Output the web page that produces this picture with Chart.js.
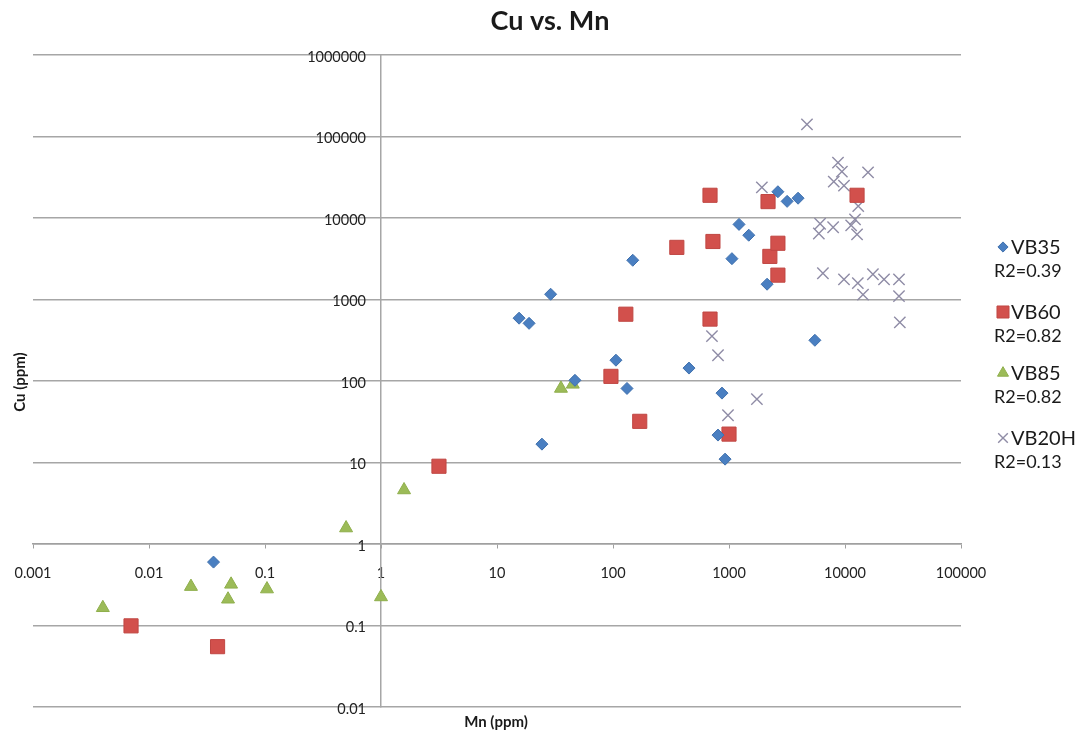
<!DOCTYPE html>
<html>
<head>
<meta charset="utf-8">
<script src="https://cdn.jsdelivr.net/npm/chart.js@4.4.1/dist/chart.umd.min.js"></script>
<style>
  html, body { margin: 0; padding: 0; background: #ffffff; }
  #wrap { width: 1090px; height: 736px; position: relative; }
</style>
</head>
<body>
<div id="wrap"><canvas id="chart" width="1090" height="736"></canvas></div>
<script>
// Mn (ppm) on x, Cu (ppm) on y, one pair of arrays per sample series
const vb35Mn = [0.036, 15.5, 18.9, 29, 24.4, 47, 148, 106, 132, 452, 870, 804, 925, 5500, 2130, 1220, 1480, 1060, 2640, 3170, 3940];
const vb35Cu = [0.6, 590, 510, 1160, 16.8, 102, 3030, 180, 81, 144, 71, 21.7, 11, 316, 1540, 8350, 6150, 3170, 21000, 16000, 17500];

const vb60Mn = [0.007, 0.039, 3.16, 96, 129, 170, 355, 686, 727, 686, 1000, 2170, 2250, 2640, 2640, 12700];
const vb60Cu = [0.099, 0.055, 9.0, 114, 660, 32, 4360, 19000, 5150, 575, 22.3, 15900, 3380, 4900, 1990, 19000];

const vb85Mn = [0.004, 0.023, 0.051, 0.048, 0.104, 1.0, 0.5, 1.58, 35.6, 45];
const vb85Cu = [0.165, 0.30, 0.32, 0.21, 0.28, 0.224, 1.57, 4.6, 81, 91];

const vb20hMn = [4700, 8700, 9400, 8000, 9800, 15800, 1920, 6100, 5950, 7900, 11300, 12200, 12700, 13000,
                 6450, 9800, 12900, 14300, 17400, 21700, 29200, 29200, 29700, 713, 804, 1740, 980];
const vb20hCu = [141000, 47900, 37000, 28000, 25000, 36300, 23700, 8500, 6450, 7700, 8100, 9600, 6300, 14000,
                 2100, 1770, 1590, 1150, 2040, 1770, 1770, 1100, 525, 355, 207, 60, 38];

const seriesNames = ['VB35', 'VB60', 'VB85', 'VB20H'];
const seriesR2 = ['R2=0.39', 'R2=0.82', 'R2=0.82', 'R2=0.13'];

const xTickValues = [0.001, 0.01, 0.1, 1, 10, 100, 1000, 10000, 100000];
const xTickLabels = ['0.001', '0.01', '0.1', '1', '10', '100', '1000', '10000', '100000'];
const yTickValues = [0.01, 0.1, 1, 10, 100, 1000, 10000, 100000, 1000000];
const yTickLabels = ['0.01', '0.1', '1', '10', '100', '1000', '10000', '100000', '1000000'];

const chartTitle = 'Cu vs. Mn';
const xTitle = 'Mn (ppm)';
const yTitle = 'Cu (ppm)';

function pairs(xs, ys) {
  return xs.map((x, i) => ({ x: x, y: ys[i] }));
}

const FONT = 'Lato, "Open Sans", "DejaVu Sans", sans-serif';
const TICK_FONT_SIZE = 14.5;

const datasets = [
  { label: seriesNames[0], data: pairs(vb35Mn, vb35Cu), pointStyle: 'rectRot', pointRadius: 6,
    backgroundColor: '#4a7fc1', borderColor: '#3f70ad', borderWidth: 1 },
  { label: seriesNames[1], data: pairs(vb60Mn, vb60Cu), pointStyle: 'rect', pointRadius: 10,
    backgroundColor: '#d2504c', borderColor: '#c04743', borderWidth: 1 },
  { label: seriesNames[2], data: pairs(vb85Mn, vb85Cu), pointStyle: 'triangle', pointRadius: 7.5,
    backgroundColor: '#9cbb58', borderColor: '#8faf4c', borderWidth: 1 },
  { label: seriesNames[3], data: pairs(vb20hMn, vb20hCu), pointStyle: 'crossRot', pointRadius: 8,
    backgroundColor: '#8f8ca6', borderColor: '#8f8ca6', borderWidth: 1.4 }
];

// Cu tick labels sit just left of the axis line that crosses at Mn = 1
const yLabelPlugin = {
  id: 'yAxisLabels',
  afterDatasetsDraw(chart) {
    const ctx = chart.ctx;
    const xs = chart.scales.x;
    const ys = chart.scales.y;
    const right = xs.getPixelForValue(1) - 15;
    ctx.save();
    ctx.fillStyle = '#222222';
    ctx.font = TICK_FONT_SIZE + 'px ' + FONT;
    ctx.textAlign = 'right';
    ctx.textBaseline = 'middle';
    yTickValues.forEach((v, i) => {
      ctx.fillText(yTickLabels[i], right, ys.getPixelForValue(v) + 2);
    });
    ctx.restore();
  }
};

// Title, axis titles and the two-line legend on the right
const textPlugin = {
  id: 'chartText',
  afterDraw(chart) {
    const ctx = chart.ctx;
    ctx.save();
    ctx.fillStyle = '#1a1a1a';
    ctx.textAlign = 'center';
    ctx.textBaseline = 'middle';
    ctx.font = 'bold 27px ' + FONT;
    ctx.fillText(chartTitle, 550, 21);

    ctx.font = 'bold 15px ' + FONT;
    ctx.fillText(xTitle, 496, 722);
    ctx.save();
    ctx.translate(20, 382);
    ctx.rotate(-Math.PI / 2);
    ctx.fillText(yTitle, 0, 0);
    ctx.restore();

    const rows = [247, 312, 373, 438];
    chart.data.datasets.forEach((ds, i) => {
      const y = rows[i];
      const r = ds.pointStyle === 'rect' ? 8.5 : ds.pointRadius * 0.85;
      ctx.fillStyle = ds.backgroundColor;
      ctx.strokeStyle = ds.borderColor;
      ctx.lineWidth = ds.borderWidth;
      Chart.helpers.drawPoint(ctx, { pointStyle: ds.pointStyle, radius: r, borderWidth: ds.borderWidth }, 1003, y);
      ctx.fillStyle = '#1a1a1a';
      ctx.textAlign = 'left';
      ctx.font = '20px ' + FONT;
      ctx.fillText(ds.label, 1011, y + 1);
      ctx.font = '18px ' + FONT;
      ctx.fillText(seriesR2[i], 994, y + 24);
    });
    ctx.restore();
  }
};

new Chart(document.getElementById('chart'), {
  type: 'scatter',
  data: { datasets: datasets },
  options: {
    responsive: false,
    animation: false,
    layout: { padding: { left: 33, right: 129, top: 55, bottom: 29 } },
    plugins: {
      legend: { display: false },
      title: { display: false },
      tooltip: { enabled: false }
    },
    scales: {
      x: {
        type: 'logarithmic',
        min: 0.001,
        max: 100000,
        position: { y: 1 },
        afterBuildTicks(scale) { scale.ticks = xTickValues.map(v => ({ value: v })); },
        afterFit(scale) { scale.paddingLeft = 0; scale.paddingRight = 0; },
        ticks: {
          autoSkip: false,
          maxRotation: 0,
          padding: 17,
          color: '#222222',
          font: { family: FONT, size: TICK_FONT_SIZE },
          callback: (v, i) => xTickLabels[i]
        },
        grid: { drawOnChartArea: false, color: '#a0a0a0', tickColor: '#a0a0a0', tickLength: 4, lineWidth: 1 },
        border: { display: true, color: '#a0a0a0', width: 1.5 }
      },
      y: {
        type: 'logarithmic',
        min: 0.01,
        max: 1000000,
        position: { x: 1 },
        afterBuildTicks(scale) { scale.ticks = yTickValues.map(v => ({ value: v })); },
        afterFit(scale) { scale.paddingTop = 0; scale.paddingBottom = 0; },
        ticks: { display: false },
        grid: { color: '#a6a6a6', lineWidth: 1.5, drawTicks: false },
        border: { display: true, color: '#a6a6a6', width: 1.5 }
      }
    }
  },
  plugins: [yLabelPlugin, textPlugin]
});
</script>
</body>
</html>
